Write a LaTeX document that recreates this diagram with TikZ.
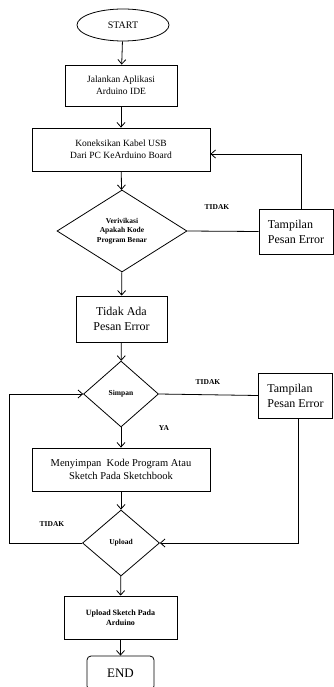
\documentclass[tikz,border=0pt]{standalone}
\usepackage{fontspec}
\setmainfont{Liberation Serif}
\usetikzlibrary{shapes.geometric,arrows.meta}

\begin{document}
\begin{tikzpicture}[x=1pt,y=-1pt,line width=0.8pt,
    >={Straight Barb[length=4.5pt,width=8pt]},
    proses/.style={rectangle, draw, inner sep=1pt, align=center, font=\fontsize{9.5}{12}\selectfont},
    pesan/.style={rectangle, draw, inner sep=1pt, align=left, font=\fontsize{12}{15}\selectfont,
        minimum width=74pt, minimum height=45pt},
    keputusan/.style={diamond, draw, inner sep=0pt, aspect=1.4, align=center,
        font=\bfseries\fontsize{7.5}{9.5}\selectfont},
    label/.style={font=\bfseries\fontsize{7.5}{9}\selectfont}]
\useasboundingbox (0,0) rectangle (334,687);

            % Define nodes
            \node[ellipse, draw, minimum width=92pt, minimum height=32pt, font=\fontsize{10}{12}\selectfont] (start) at (123,25) {START};
            \node[proses, minimum width=112pt, minimum height=41pt] (jalan) at (121,85.5) {Jalankan Aplikasi\\Arduino IDE};
            \node[proses, minimum width=178pt, minimum height=43pt] (konek) at (121,149.5) {Koneksikan Kabel USB\\Dari PC KeArduino Board};
            \node[keputusan, minimum width=130pt, minimum height=82pt] (verif) at (122,231) {Verivikasi\\Apakah Kode\\Program Benar};
            \node[pesan] (tamp1) at (296,231.5) {Tampilan\\Pesan Error};
            \node[proses, minimum width=91pt, minimum height=46pt, font=\fontsize{12}{15}\selectfont] (tidak) at (121.5,319) {Tidak Ada\\Pesan Error};
            \node[keputusan, minimum width=75pt, minimum height=66pt] (simpan) at (121,394) {Simpan};
            \node[pesan] (tamp2) at (295.5,395.5) {Tampilan\\Pesan Error};
            \node[proses, minimum width=178pt, minimum height=43pt, font=\fontsize{10.5}{13}\selectfont] (simpankode) at (121,469.5) {Menyimpan\enspace Kode Program Atau\\Sketch Pada Sketchbook};
            \node[keputusan, minimum width=77pt, minimum height=66pt] (upload) at (121,543) {Upload};
            \node[proses, minimum width=113pt, minimum height=43pt, font=\bfseries\fontsize{8}{10}\selectfont] (uplsketch) at (120.5,617.5) {Upload Sketch Pada\\Arduino};
            \node[rectangle, rounded corners=4pt, draw, minimum width=67pt, minimum height=34pt, font=\fontsize{13}{15}\selectfont] (end) at (120.5,673) {END};
            \coordinate (kiri) at (9,543);

            % Labels
            \node[label] (t1) at (217,207) {TIDAK};
            \node[label] (t2) at (208,382) {TIDAK};
            \node[label] (t3) at (52,524) {TIDAK};
            \node[label] (ya) at (164,428) {YA};

            % Draw edges with arrows
            \draw[->] (start) -- (jalan);
            \draw[->] (jalan) -- (konek);
            \draw[->] (konek) -- (verif);
            \draw[->] (verif) -- (tidak);
            \draw[->] (tidak) -- (simpan);
            \draw[->] (simpan) -- (simpankode);
            \draw[->] (simpankode) -- (upload);
            \draw[->] (upload) -- (uplsketch);
            \draw[->] (uplsketch) -- (end);
            \draw (verif.east) -- (tamp1.west);
            \draw[->] ([xshift=5pt]tamp1.north) |- ([yshift=-4.5pt]konek.east);
            \draw (simpan.east) -- (tamp2.west);
            \draw[->] ([xshift=2.5pt]tamp2.south) |- (upload.east);
            \draw[->] (upload.west) -- (kiri) |- (simpan.west);
\end{tikzpicture}
\end{document}
